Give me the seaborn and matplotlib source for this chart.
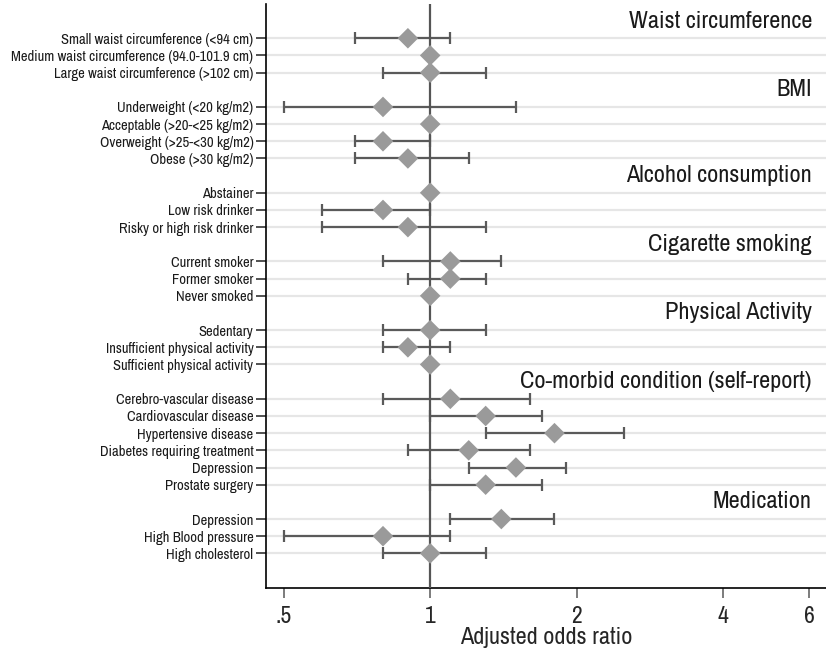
import numpy as np
import pandas as pd
import matplotlib.pyplot as plt
import matplotlib.ticker as ticker
import seaborn as sns

group_names = ['Waist circumference', 'BMI', 'Alcohol consumption', 'Cigarette smoking',
               'Physical Activity', 'Co-morbid condition (self-report)', 'Medication']
group_sizes = [3, 4, 3, 3, 3, 6, 3]

labels = ['Small waist circumference (<94 cm)', 'Medium waist circumference (94.0-101.9 cm)',
          'Large waist circumference (>102 cm)',
          'Underweight (<20 kg/m2)', 'Acceptable (>20-<25 kg/m2)', 'Overweight (>25-<30 kg/m2)',
          'Obese (>30 kg/m2)',
          'Abstainer', 'Low risk drinker', 'Risky or high risk drinker',
          'Current smoker', 'Former smoker', 'Never smoked',
          'Sedentary', 'Insufficient physical activity', 'Sufficient physical activity',
          'Cerebro-vascular disease', 'Cardiovascular disease', 'Hypertensive disease',
          'Diabetes requiring treatment', 'Depression', 'Prostate surgery',
          'Depression', 'High Blood pressure', 'High cholesterol']
odds = [0.9, 1.0, 1.0,
        0.8, 1.0, 0.8, 0.9,
        1.0, 0.8, 0.9,
        1.1, 1.1, 1.0,
        1.0, 0.9, 1.0,
        1.1, 1.3, 1.8, 1.2, 1.5, 1.3,
        1.4, 0.8, 1.0]
lower = [0.7, 1.0, 0.8,
         0.5, 1.0, 0.7, 0.7,
         1.0, 0.6, 0.6,
         0.8, 0.9, 1.0,
         0.8, 0.8, 1.0,
         0.8, 1.0, 1.3, 0.9, 1.2, 1.0,
         1.1, 0.5, 0.8]
upper = [1.1, 1.0, 1.3,
         1.5, 1.0, 1.0, 1.2,
         1.0, 1.0, 1.3,
         1.4, 1.3, 1.0,
         1.3, 1.1, 1.0,
         1.6, 1.7, 2.5, 1.6, 1.9, 1.7,
         1.8, 1.1, 1.3]
xticks = [0.5, 1, 2, 4, 6]
xticklabels = ['.5', '1', '2', '4', '6']

# row positions: one blank row per group for the heading
ypos, head_pos = [], []
r = 0
for n in group_sizes:
    head_pos.append(r)
    ypos.extend(range(r + 1, r + 1 + n))
    r += n + 1

df = pd.DataFrame({'label': labels, 'odds': odds, 'lower': lower, 'upper': upper, 'y': ypos})

sns.set_style('white')
plt.rcParams['font.family'] = ['Archivo Narrow', 'Liberation Sans', 'DejaVu Sans']

fig = plt.figure(figsize=(8.26, 6.53), dpi=100)
ax = fig.add_axes([0.322, 0.1, 0.678, 0.894])

for y in df['y']:
    ax.axhline(y, color='#e6e6e6', lw=1.6, zorder=0)

ax.errorbar(df['odds'], df['y'],
            xerr=[df['odds'] - df['lower'], df['upper'] - df['odds']],
            fmt='none', ecolor='#5a5a5a', elinewidth=1.6, capsize=4.5, capthick=1.6, zorder=2)
ax.axvline(1, color='#555555', lw=1.6, zorder=3)
sns.scatterplot(data=df, x='odds', y='y', marker='D', s=110, color='#9a9a9a',
                edgecolor='none', zorder=4, ax=ax, legend=False)

for name, hy in zip(group_names, head_pos):
    ax.text(0.975, hy, name, transform=ax.get_yaxis_transform(), ha='right', va='center',
            fontsize=17.5, color='#1a1a1a')

ax.set_xscale('log')
ax.set_xlim(0.46, 6.5)
ax.set_ylim(r + 1, -1)
ax.xaxis.set_major_locator(ticker.FixedLocator(xticks))
ax.xaxis.set_major_formatter(ticker.FixedFormatter(xticklabels))
ax.xaxis.set_minor_locator(ticker.NullLocator())
ax.set_yticks(df['y'])
ax.set_yticklabels(df['label'], fontsize=10.5, color='#1a1a1a')
ax.tick_params(axis='x', labelsize=17, length=7, width=1.2, color='#666666', direction='out',
               bottom=True, pad=6)
ax.tick_params(axis='y', length=7, width=1.2, color='#333333', direction='out', left=True, pad=2)
ax.set_xlabel('Adjusted odds ratio', fontsize=17.5, labelpad=0)
ax.set_ylabel('')
for side in ['top', 'right']:
    ax.spines[side].set_visible(False)
for side in ['left', 'bottom']:
    ax.spines[side].set_color('black')
    ax.spines[side].set_linewidth(1.2)

fig.savefig('out.png', dpi=100)
